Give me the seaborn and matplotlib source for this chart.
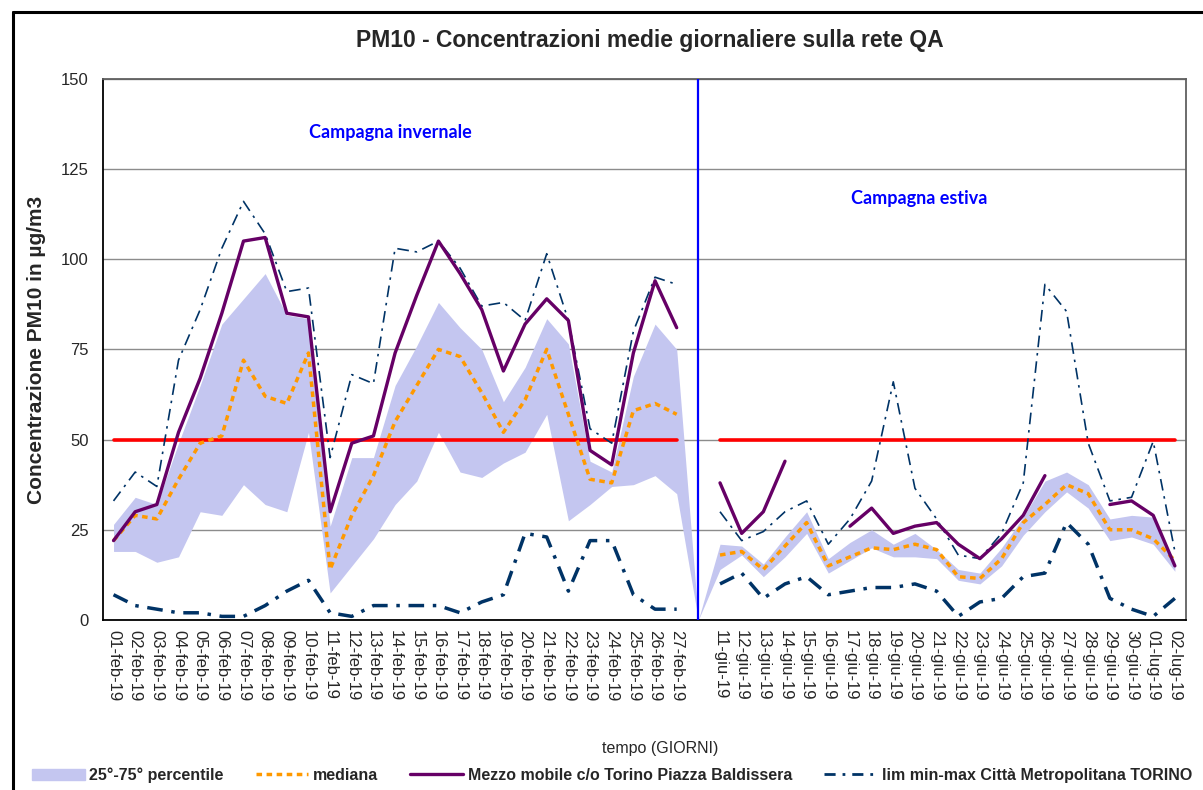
import numpy as np
import pandas as pd
import seaborn as sns
import matplotlib.pyplot as plt
from matplotlib.lines import Line2D
from matplotlib.patches import Patch

# categories: winter campaign, one empty slot, summer campaign
giorni = ['01-feb-19', '02-feb-19', '03-feb-19', '04-feb-19', '05-feb-19', '06-feb-19',
          '07-feb-19', '08-feb-19', '09-feb-19', '10-feb-19', '11-feb-19', '12-feb-19',
          '13-feb-19', '14-feb-19', '15-feb-19', '16-feb-19', '17-feb-19', '18-feb-19',
          '19-feb-19', '20-feb-19', '21-feb-19', '22-feb-19', '23-feb-19', '24-feb-19',
          '25-feb-19', '26-feb-19', '27-feb-19', '',
          '11-giu-19', '12-giu-19', '13-giu-19', '14-giu-19', '15-giu-19', '16-giu-19',
          '17-giu-19', '18-giu-19', '19-giu-19', '20-giu-19', '21-giu-19', '22-giu-19',
          '23-giu-19', '24-giu-19', '25-giu-19', '26-giu-19', '27-giu-19', '28-giu-19',
          '29-giu-19', '30-giu-19', '01-lug-19', '02-lug-19']

p25 = [19, 19, 16, 17.5, 30, 29, 37.5, 32, 30, 52, 7.5, 15, 22.5, 32, 38.5, 52, 41, 39.5,
       43.5, 46.5, 57, 27.5, 32, 37, 37.5, 40, 35,
       0,
       14, 18, 12, 17.5, 24, 13, 16.5, 20, 17.5, 17.5, 17, 11, 10, 15, 23.5, 30, 35.5, 31,
       22, 23, 21, 13.5]
p75 = [26.5, 34, 32, 49, 65, 82, 89, 96, 84.5, 83.5, 26, 45, 45, 65, 76, 88, 81, 75,
       60.5, 70, 83.5, 76.5, 44, 41, 67.5, 82, 75,
       0,
       21, 20.5, 15.5, 23, 30, 17, 21.5, 25, 21, 24, 19.5, 14, 13, 20, 28.5, 38.5, 41, 37.5,
       28, 29, 28.5, 15.5]
mediana = [22, 29, 28, 39, 49, 51, 72, 62, 60, 74, 14, 29, 40, 55, 65, 75, 73, 63, 52, 61,
           75, 57, 39, 38, 58, 60, 57,
           None,
           18, 19, 14, 20.5, 27, 15, 17.5, 20, 19.5, 21, 19.5, 12, 11.5, 17, 27, 32, 37.5, 35,
           25, 25, 22.5, 16.5]
mezzo_mobile = [22, 30, 32, 52, 67, 85, 105, 106, 85, 84, 30, 49, 51, 74, 90, 105, 96, 86,
                69, 82, 89, 83, 47, 43, 74, 94, 81,
                None,
                38, 24, 30, 44, None, None, 26, 31, 24, 26, 27, 21, 17, 22.5, 29, 40, None, None,
                32, 33, 29, 15]
lim_max = [33, 41, 37, 72, 86, 103, 116, 107, 91, 92, 45, 68, 65.5, 103, 102, 105, 97.5, 87,
           88, 83, 101.5, 83, 53, 49, 80, 95, 93,
           None,
           30, 22, 24.5, 30, 33, 21, 28, 38.5, 66, 36.5, 28, 18, 17, 24, 38, 93, 85.5, 49,
           33, 34, 49.5, 19]
lim_min = [7, 4, 3, 2, 2, 1, 1, 4, 8, 11, 2, 1, 4, 4, 4, 4, 2, 5, 7, 24, 23, 8, 22, 22, 7, 3, 3,
           None,
           10, 13, 6, 10, 12, 7, 8, 9, 9, 10, 8, 1, 5, 6, 12, 13, 27, 21, 6, 3, 1, 6]
valore_limite = [50] * 27 + [None] + [50] * 22


def segments(values):
    # one unit per run of valid values, so gaps stay open
    df = pd.DataFrame({'x': np.arange(len(values)), 'y': pd.to_numeric(pd.Series(values))})
    df['seg'] = df['y'].isna().cumsum()
    return df.dropna()


def draw(ax, values, **kws):
    sns.lineplot(data=segments(values), x='x', y='y', units='seg', estimator=None,
                 legend=False, ax=ax, **kws)


sns.set_theme(style='white')
plt.rcParams['font.family'] = ['Liberation Sans', 'DejaVu Sans']

W, H = 1203, 790
fig = plt.figure(figsize=(W / 100, H / 100), dpi=100)
fig.patch.set_facecolor('white')
ax = fig.add_axes([102.7 / W, 1 - 620 / H, 1083 / W, 541.3 / H])

x = np.arange(len(giorni))
ax.fill_between(x, p25, p75, color='#C4C6F0', lw=0, zorder=1)

purple = '#660066'
navy = '#003366'
draw(ax, valore_limite, color='#FF0000', lw=2.6, zorder=2)
draw(ax, lim_max, color=navy, lw=1.2, linestyle=(0, (7, 3.5, 1.5, 3.5)), zorder=3)
draw(ax, lim_min, color=navy, lw=2.5, linestyle=(0, (4.5, 2.5, 1, 2.5)), zorder=3)
draw(ax, mediana, color='#FF9900', lw=2.5, linestyle=(0, (1.6, 1.3)), zorder=4)
draw(ax, mezzo_mobile, color=purple, lw=2.4, zorder=5)

ax.axvline(27, color='#0000FF', lw=1.6, zorder=6)

ax.text(12.8, 135, 'Campagna invernale', color='#0000FF', fontsize=13,
        fontweight='bold', family='Lato', ha='center', va='center')
ax.text(37.2, 116.7, 'Campagna estiva', color='#0000FF', fontsize=13,
        fontweight='bold', family='Lato', ha='center', va='center')

ax.set_xlim(-0.5, len(giorni) - 0.5)
ax.set_ylim(0, 150)
ax.set_yticks(np.arange(0, 151, 25))
ax.set_xticks(x)
ax.set_xticklabels(giorni, rotation=-90, fontsize=12)
ax.set_xticks(np.arange(-0.5, len(giorni), 1), minor=True)
ax.tick_params(axis='x', which='major', length=0, pad=7)
ax.tick_params(axis='x', which='minor', length=5, width=1, direction='out', color='black')
ax.tick_params(axis='y', labelsize=12, length=0, pad=10)
ax.set_xlabel('')
ax.set_ylabel('')
ax.yaxis.grid(True, color='#8C8C8C', lw=1)
ax.xaxis.grid(False)
ax.set_axisbelow(True)
for side in ['left', 'bottom']:
    ax.spines[side].set_color('black')
    ax.spines[side].set_linewidth(1.3)
for side in ['top', 'right']:
    ax.spines[side].set_color('#606060')
    ax.spines[side].set_linewidth(1.3)

fig.text(650 / W, 1 - 40 / H, 'PM10 - Concentrazioni medie giornaliere sulla rete QA',
         ha='center', va='center', fontsize=16.5, fontweight='bold')
fig.text(37 / W, 1 - 350 / H, 'Concentrazione PM10 in µg/m3', rotation=90,
         ha='center', va='center', fontsize=15, fontweight='bold')
fig.text(660 / W, 1 - 748 / H, 'tempo (GIORNI)', ha='center', va='center', fontsize=11.5)

handles = [Patch(color='#C4C6F0'),
           Line2D([], [], color='#FF9900', lw=2.5, linestyle=(0, (1.6, 1.3))),
           Line2D([], [], color=purple, lw=2.4),
           Line2D([], [], color=navy, lw=2, linestyle=(0, (4, 2.5, 1, 2.5)))]
labels = ['25°-75° percentile', 'mediana', 'Mezzo mobile c/o Torino Piazza Baldissera',
          'lim min-max Città Metropolitana TORINO']
fig.legend(handles, labels, loc='center', bbox_to_anchor=(612 / W, 1 - 775 / H), ncol=4,
           frameon=False, handlelength=3.3, handletextpad=0.3, columnspacing=2.0,
           prop={'weight': 'bold', 'size': 11.5})

# outer chart border (top and left visible in the crop)
fig.add_artist(Line2D([13 / W, 1], [1 - 12 / H, 1 - 12 / H], color='black', lw=2.2))
fig.add_artist(Line2D([13 / W, 13 / W], [0, 1 - 12 / H], color='black', lw=2.2))

fig.savefig('out.png', dpi=100)
